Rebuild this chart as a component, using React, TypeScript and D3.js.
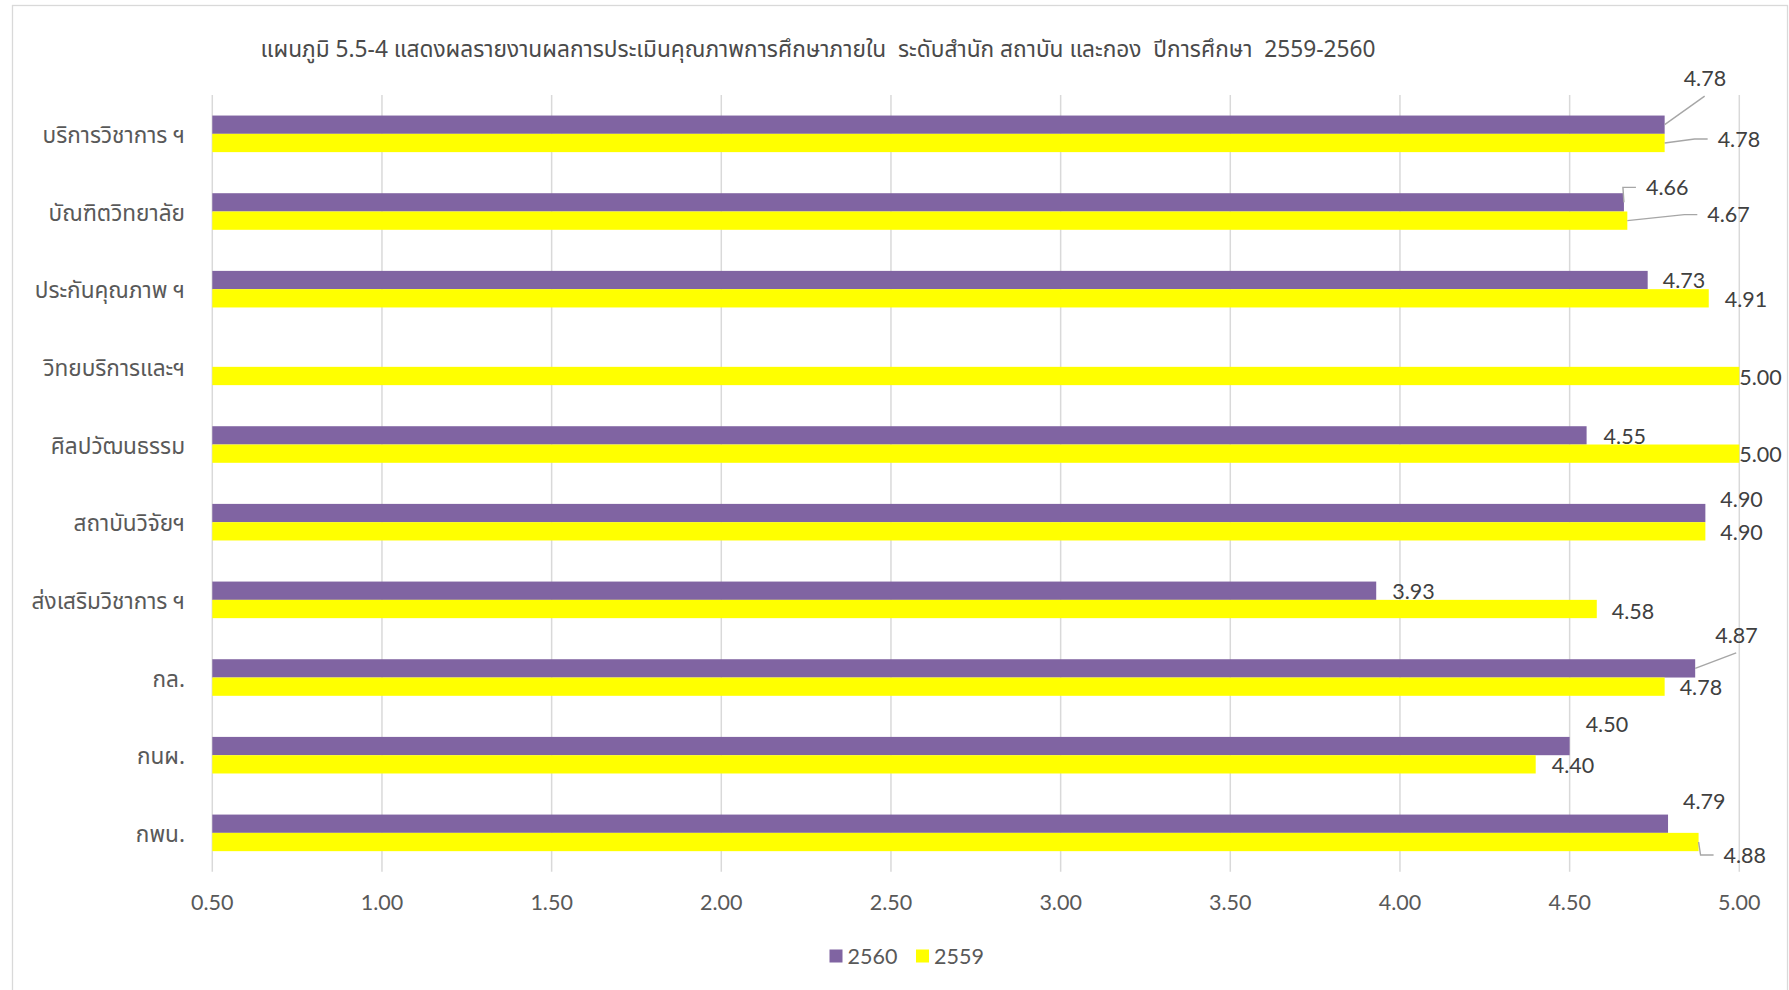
import React from "react";
import * as d3 from "d3";

const categories = [
  "บริการวิชาการ ฯ",
  "บัณฑิตวิทยาลัย",
  "ประกันคุณภาพ ฯ",
  "วิทยบริการและฯ",
  "ศิลปวัฒนธรรม",
  "สถาบันวิจัยฯ",
  "ส่งเสริมวิชาการ ฯ",
  "กล.",
  "กนผ.",
  "กพน.",
];
const seriesNames = ["2560", "2559"];
const values2560: (number | null)[] = [4.78, 4.66, 4.73, null, 4.55, 4.9, 3.93, 4.87, 4.5, 4.79];
const values2559: (number | null)[] = [4.78, 4.67, 4.91, 5.0, 5.0, 4.9, 4.58, 4.78, 4.4, 4.88];
const xTicks = [0.5, 1, 1.5, 2, 2.5, 3, 3.5, 4, 4.5, 5];
const titleText =
  "แผนภูมิ 5.5-4 แสดงผลรายงานผลการประเมินคุณภาพการศึกษาภายใน  ระดับสำนัก สถาบัน และกอง  ปีการศึกษา  2559-2560";

// label placement tweaks (dx, dy, leader side)
type Off = [number, number, string];
const offsets2560: Off[] = [
  [3, -46, "b"], [6, -15, "l"], [-1, 0, ""], [0, 0, ""], [1, 1, ""],
  [-1, -14, ""], [0, 1, ""], [4, -33, "b"], [0, -22, ""], [-1, -22, ""],
];
const offsets2559: Off[] = [
  [37, -4, "l"], [64, -6, "l"], [0, 1, ""], [-16, 1, ""], [-16, 1, ""],
  [-1, 1, ""], [-1, 2, ""], [-1, 1, ""], [0, 1, ""], [9, 13, "l"],
];

const colors = ["#8064A2", "#FFFF00"];
const W = 1789;
const H = 990;
const numFont = "Lato, 'Open Sans', sans-serif";
const thaiFont = "'Noto Sans Thai', 'Leelawadee UI', Tahoma, 'Noto Sans', sans-serif";

export default function App() {
  const x = d3.scaleLinear().domain([0.5, 5]).range([212.3, 1739.3]);
  const y0 = d3
    .scaleBand<string>()
    .domain(categories)
    .range([95, 871.7])
    .paddingInner(0.529)
    .paddingOuter(0.2645);
  const y1 = d3.scaleBand<string>().domain(seriesNames).range([0, y0.bandwidth()]);
  const fmt = d3.format(".2f");
  const series = [values2560, values2559];
  const offs = [offsets2560, offsets2559];
  const labelW = 42;
  const labelH = 17;

  const marks: React.ReactNode[] = [];
  const labels: React.ReactNode[] = [];
  series.forEach((vals, si) => {
    vals.forEach((v, ci) => {
      if (v == null) return;
      const by = (y0(categories[ci]) as number) + (y1(seriesNames[si]) as number);
      const bh = y1.bandwidth();
      const x0 = x(0.5);
      const x1 = x(v);
      marks.push(
        <rect key={`b${si}-${ci}`} x={x0} y={by} width={x1 - x0} height={bh} fill={colors[si]} />
      );
      const [dx, dy, side] = offs[si][ci];
      const cy = by + bh / 2;
      const lx = x1 + 16 + dx;
      const ly = cy + dy;
      labels.push(
        <text
          key={`t${si}-${ci}`}
          x={lx}
          y={ly}
          dy="0.36em"
          fontFamily={numFont}
          fontSize={21.5}
          fill="#404040"
        >
          {fmt(v)}
        </text>
      );
      if (side === "b") {
        labels.push(
          <path
            key={`l${si}-${ci}`}
            d={`M${x1},${cy}L${lx + labelW / 2},${ly + labelH / 2 + 9}`}
            stroke="#A6A6A6"
            strokeWidth={1.4}
            fill="none"
          />
        );
      } else if (side === "l") {
        labels.push(
          <path
            key={`l${si}-${ci}`}
            d={`M${x1},${cy}L${lx - 23},${ly}L${lx - 10},${ly}`}
            stroke="#A6A6A6"
            strokeWidth={1.4}
            fill="none"
          />
        );
      }
    });
  });

  return (
    <svg
      width={W}
      height={H}
      style={{ position: "absolute", left: 0, top: 0, background: "#fff" }}
    >
      <rect x={12.5} y={5.5} width={1775} height={1000} fill="#fff" stroke="#D9D9D9" strokeWidth={1.3} />
      <text
        x={818}
        y={49}
        dy="0.35em"
        textAnchor="middle"
        fontFamily={thaiFont}
        fontSize={22.7}
        fill="#4a4a4a"
        style={{ whiteSpace: "pre" }}
      >
        {titleText}
      </text>
      {xTicks.map((t) => (
        <g key={`g${t}`}>
          <line x1={x(t)} x2={x(t)} y1={95} y2={871.7} stroke="#D9D9D9" strokeWidth={1.5} />
          <text
            x={x(t)}
            y={902.5}
            dy="0.36em"
            textAnchor="middle"
            fontFamily={numFont}
            fontSize={21.5}
            fill="#595959"
          >
            {fmt(t)}
          </text>
        </g>
      ))}
      {categories.map((c) => (
        <text
          key={`c${c}`}
          x={185}
          y={(y0(c) as number) + y0.bandwidth() / 2 + 1}
          dy="0.36em"
          textAnchor="end"
          fontFamily={thaiFont}
          fontSize={22.6}
          fill="#595959"
          style={{ whiteSpace: "pre" }}
        >
          {c}
        </text>
      ))}
      {marks}
      {labels}
      <g>
        {seriesNames.map((s, i) => {
          const lx = 829.5 + i * 86.5;
          return (
            <g key={`lg${s}`}>
              <rect x={lx} y={949.5} width={13} height={13} fill={colors[i]} />
              <text
                x={lx + 18}
                y={956}
                dy="0.36em"
                fontFamily={numFont}
                fontSize={21.5}
                fill="#595959"
              >
                {s}
              </text>
            </g>
          );
        })}
      </g>
    </svg>
  );
}
